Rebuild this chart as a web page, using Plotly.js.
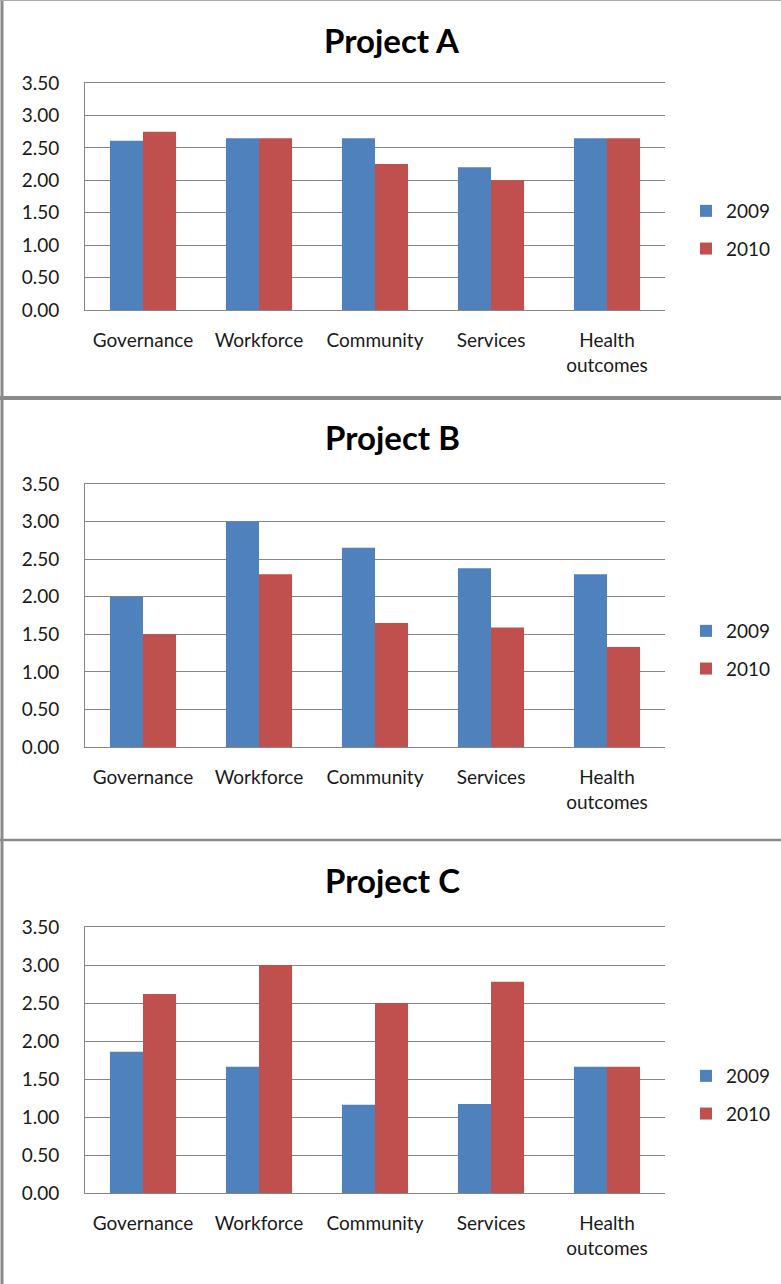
<!DOCTYPE html>
<html>
<head>
<meta charset="utf-8">
<script src="https://cdn.plot.ly/plotly-3.0.1.min.js"></script>
<style>
  html, body { margin: 0; padding: 0; background: #fff; }
  #chart { width: 781px; height: 1284px; }
</style>
</head>
<body>
<div id="chart"></div>
<script>
// ---- data ----
const categories = ["Governance", "Workforce", "Community", "Services", "Health<br>outcomes"];
const seriesNames = ["2009", "2010"];
const panelTitles = ["Project A", "Project B", "Project C"];

const projectA2009 = [2.61, 2.65, 2.65, 2.20, 2.65];
const projectA2010 = [2.75, 2.65, 2.25, 2.00, 2.65];

const projectB2009 = [2.00, 3.00, 2.65, 2.38, 2.30];
const projectB2010 = [1.50, 2.30, 1.65, 1.59, 1.33];

const projectC2009 = [1.86, 1.66, 1.16, 1.17, 1.66];
const projectC2010 = [2.62, 3.00, 2.50, 2.78, 1.66];

const yTickVals = [0, 0.5, 1, 1.5, 2, 2.5, 3, 3.5];

// ---- layout helpers ----
const W = 781, H = 1284;
const FONT = "Lato, 'Open Sans', sans-serif";
const colors = ["#4F81BD", "#C0504D"];
const gridColor = "#868686";
const textColor = "#1a1a1a";
const py = p => 1 - p / H;      // pixel-from-top -> paper y
const px = p => p / W;          // pixel-from-left -> paper x

const panels = [
  { data: [projectA2009, projectA2010], top: 83,  bottom: 310,  titleY: 40,  legendY: 230 },
  { data: [projectB2009, projectB2010], top: 484, bottom: 747,  titleY: 437, legendY: 650 },
  { data: [projectC2009, projectC2010], top: 927, bottom: 1193, titleY: 880, legendY: 1095 }
];

const traces = [];
const layout = {
  width: W, height: H,
  margin: { l: 0, r: 0, t: 0, b: 0 },
  paper_bgcolor: "#ffffff",
  plot_bgcolor: "#ffffff",
  barmode: "group",
  bargap: 0.43,
  bargroupgap: 0,
  font: { family: FONT, size: 19, color: textColor },
  annotations: [],
  shapes: [
    // panel frames
    { type: "line", xref: "paper", yref: "paper", x0: px(2), x1: px(2), y0: 0, y1: 1, line: { color: "#8a8a8a", width: 3 } },
    { type: "line", xref: "paper", yref: "paper", x0: 0, x1: 1, y0: py(0.5), y1: py(0.5), line: { color: "#aaaaaa", width: 1 } },
    { type: "line", xref: "paper", yref: "paper", x0: 0, x1: 1, y0: py(398), y1: py(398), line: { color: "#8a8a8a", width: 4 } },
    { type: "line", xref: "paper", yref: "paper", x0: 0, x1: 1, y0: py(840), y1: py(840), line: { color: "#8a8a8a", width: 2.5 } }
  ],
  showlegend: true
};

panels.forEach((p, i) => {
  const n = i === 0 ? "" : String(i + 1);
  const xa = "x" + n, ya = "y" + n;
  const legendName = "legend" + n;
  p.data.forEach((vals, s) => {
    traces.push({
      type: "bar",
      x: categories,
      y: vals,
      name: seriesNames[s],
      xaxis: xa, yaxis: ya,
      legend: legendName,
      legendgroup: "g" + i + "_" + s,
      marker: { color: colors[s], line: { width: 0 } },
      hoverinfo: "x+y+name"
    });
  });

  layout["xaxis" + n] = {
    domain: [px(85), px(665)],
    anchor: ya,
    showline: true, mirror: true, linecolor: gridColor, linewidth: 1,
    showgrid: false, ticks: "",
    ticklabelstandoff: 13,
    tickfont: { family: FONT, size: 19, color: textColor },
    fixedrange: true
  };
  layout["yaxis" + n] = {
    domain: [py(p.bottom), py(p.top)],
    anchor: xa,
    range: [0, 3.5],
    tickvals: yTickVals,
    tickformat: ".2f",
    showline: true, linecolor: gridColor, linewidth: 1,
    showgrid: true, gridcolor: gridColor, gridwidth: 1,
    zeroline: false, ticks: "",
    ticklabelstandoff: 21,
    tickfont: { family: FONT, size: 19, color: textColor },
    fixedrange: true
  };
  layout[legendName] = {
    x: px(686), xanchor: "left",
    y: py(p.legendY), yanchor: "middle",
    traceorder: "grouped",
    tracegroupgap: 10,
    bgcolor: "rgba(0,0,0,0)",
    font: { family: FONT, size: 19, color: textColor }
  };
  layout.annotations.push({
    xref: "paper", yref: "paper",
    x: px(392), y: py(p.titleY),
    xanchor: "center", yanchor: "middle",
    showarrow: false,
    text: "<b>" + panelTitles[i] + "</b>",
    font: { family: FONT, size: 33, color: "#000000" }
  });
});

Plotly.newPlot("chart", traces, layout, { displayModeBar: false, staticPlot: true });
</script>
</body>
</html>
